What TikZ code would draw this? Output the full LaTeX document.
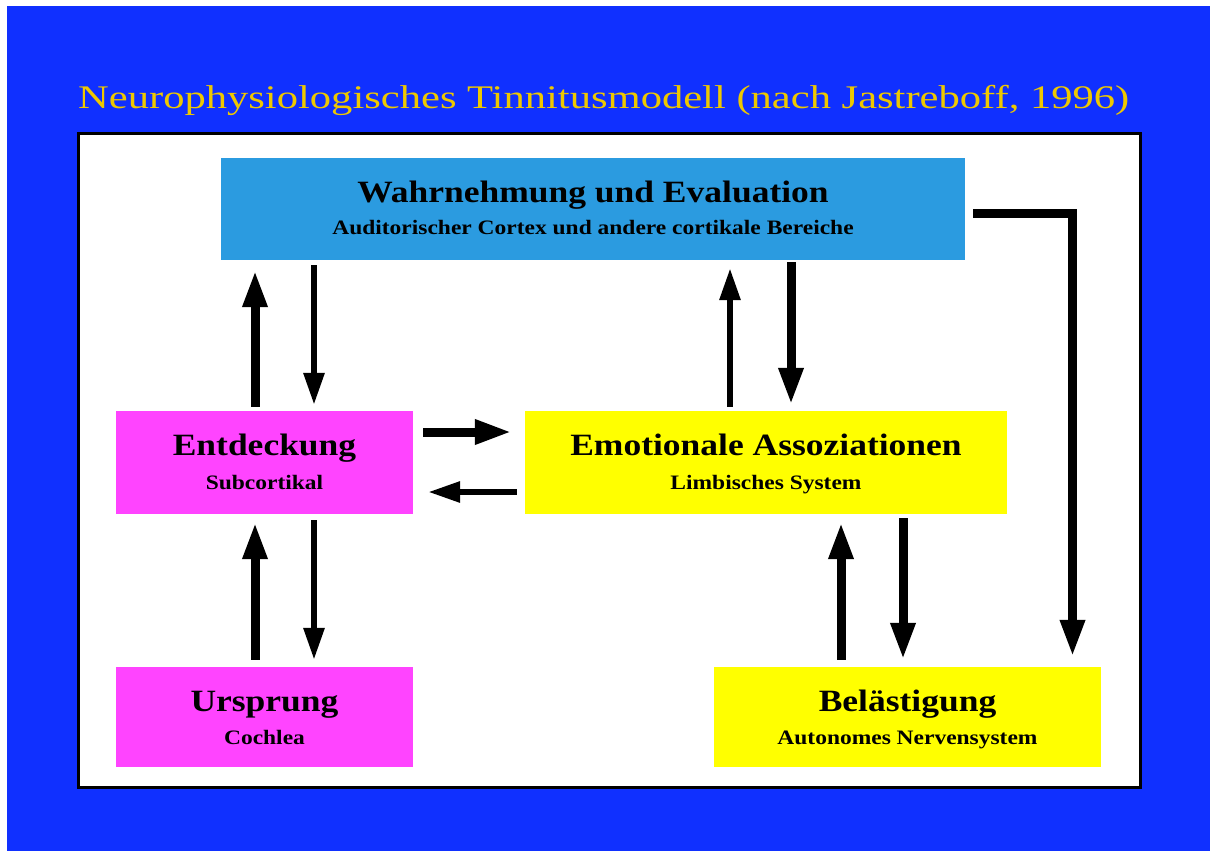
\documentclass[tikz,border=0pt]{standalone}
\usepackage{fontspec}
\setmainfont{Liberation Serif}
\newfontfamily\headfont[FakeStretch=1.29]{Liberation Serif}
\newfontfamily\blockfont[FakeStretch=1.145]{Liberation Serif}
\usetikzlibrary{arrows.meta,calc}

\definecolor{bgblue}{RGB}{16,48,255}
\definecolor{titlegold}{RGB}{238,200,0}
\definecolor{cortexblue}{RGB}{43,155,224}
\definecolor{subpink}{RGB}{255,68,255}
\definecolor{limbyellow}{RGB}{255,255,0}

\tikzset{
  block/.style={fill=#1, inner sep=0pt},
  blocktitle/.style={anchor=base, inner sep=0pt, font=\blockfont\bfseries\fontsize{31}{36}\selectfont},
  blocksub/.style={anchor=base, inner sep=0pt, font=\blockfont\bfseries\fontsize{20.5}{24}\selectfont},
  bigarr/.style={line width=9pt, -{Triangle[length=37pt,width=23pt]}},
  smallarr/.style={line width=6pt, -{Triangle[length=32pt,width=20pt]}},
}

\begin{document}
\begin{tikzpicture}[x=1pt, y=-1pt]
	% page and frame
	\fill[white] (0,0) rectangle (1214,851);
	\fill[bgblue] (7,6) rectangle (1210,851);
	\node[anchor=base west, inner sep=0pt, text=titlegold, font=\headfont\fontsize{33}{38}\selectfont] (title) at (78,108) {Neurophysiologisches Tinnitusmodell (nach Jastreboff, 1996)};
	\draw[fill=white, line width=3pt] (78,133) rectangle (1140,787);

	% blocks
	\node[block=cortexblue, minimum width=744pt, minimum height=102pt] (wahr) at (593,209) {};
	\node[block=subpink, minimum width=297pt, minimum height=103pt] (ent) at (264.5,462.5) {};
	\node[block=limbyellow, minimum width=482pt, minimum height=103pt] (emo) at (766,462.5) {};
	\node[block=subpink, minimum width=297pt, minimum height=100pt] (urs) at (264.5,717) {};
	\node[block=limbyellow, minimum width=387pt, minimum height=100pt] (bel) at (907.5,717) {};

	\node[blocktitle] (wahrT) at ([yshift=-45pt]wahr.north) {Wahrnehmung und Evaluation};
	\node[blocksub] (wahrS) at ([yshift=-77pt]wahr.north) {Auditorischer Cortex und andere cortikale Bereiche};
	\node[blocktitle] (entT) at ([yshift=-45pt]ent.north) {Entdeckung};
	\node[blocksub] (entS) at ([yshift=-79pt]ent.north) {Subcortikal};
	\node[blocktitle] (emoT) at ([yshift=-45pt]emo.north) {Emotionale Assoziationen};
	\node[blocksub] (emoS) at ([yshift=-79pt]emo.north) {Limbisches System};
	\node[blocktitle] (ursT) at ([yshift=-45pt]urs.north) {Ursprung};
	\node[blocksub] (ursS) at ([yshift=-78pt]urs.north) {Cochlea};
	\node[blocktitle] (belT) at ([yshift=-45pt]bel.north) {Belästigung};
	\node[blocksub] (belS) at ([yshift=-78pt]bel.north) {Autonomes Nervensystem};

	% arrows between the blocks
	\draw[bigarr, shorten <=4pt, shorten >=10pt] ([xshift=-9.5pt]ent.north) -- ([xshift=-9.5pt]ent.north |- wahr.south);
	\draw[smallarr, shorten <=5pt, shorten >=6pt] ([xshift=49.5pt]ent.north |- wahr.south) -- ([xshift=49.5pt]ent.north);
	\draw[bigarr, shorten <=7pt, shorten >=8pt] ([xshift=-9.5pt]urs.north) -- ([xshift=-9.5pt]ent.south);
	\draw[smallarr, shorten <=6pt, shorten >=7pt] ([xshift=49.5pt]ent.south) -- ([xshift=49.5pt]urs.north);
	\draw[bigarr, shorten <=10pt, shorten >=13pt] ([yshift=30.5pt]ent.east) -- ([yshift=30.5pt]ent.east -| emo.west);
	\draw[smallarr, shorten <=8pt, shorten >=15pt] ([yshift=-29.5pt]ent.east -| emo.west) -- ([yshift=-29.5pt]ent.east);
	\draw[smallarr, shorten <=4pt, shorten >=8pt] ([xshift=-36pt]emo.north) -- ([xshift=-36pt]emo.north |- wahr.south);
	\draw[bigarr, shorten <=2pt, shorten >=6pt] ([xshift=25pt]emo.north |- wahr.south) -- ([xshift=25pt]emo.north);
	\draw[bigarr, shorten <=7pt, shorten >=8pt] ([xshift=-66.5pt]bel.north) -- ([xshift=-66.5pt]bel.north |- emo.south);
	\draw[bigarr, shorten <=4pt, shorten >=7pt] ([xshift=-4.5pt]bel.north |- emo.south) -- ([xshift=-4.5pt]bel.north);
	\draw[bigarr, line join=miter, shorten <=8pt, shorten >=10pt] ([yshift=-4.5pt]wahr.east) -| ([xshift=165pt]bel.north);
\end{tikzpicture}
\end{document}
